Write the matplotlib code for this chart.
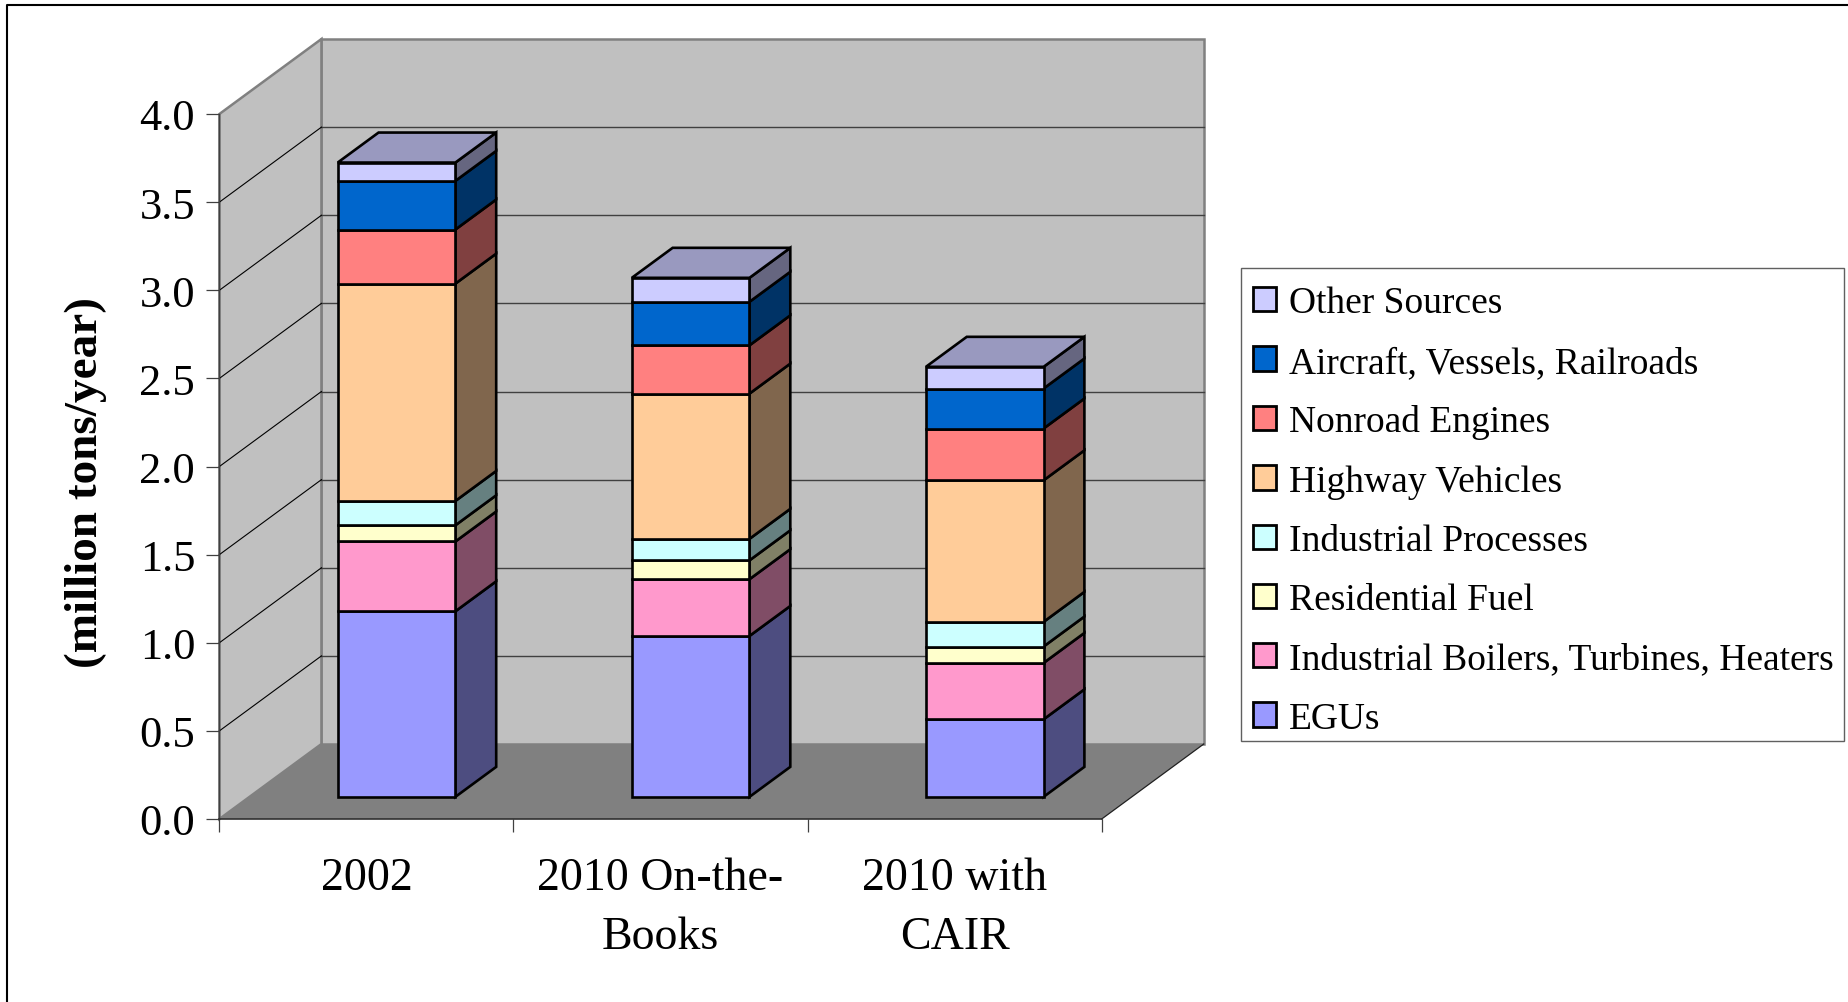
import matplotlib
matplotlib.use("Agg")
import matplotlib.pyplot as plt
from matplotlib.lines import Line2D
from matplotlib.patches import Patch, Polygon, Rectangle

plt.rcParams['font.family'] = ['Liberation Serif']

categories = ["2002", "2010 On-the-\nBooks", "2010 with\nCAIR"]
sources = ["EGUs", "Industrial Boilers, Turbines, Heaters", "Residential Fuel",
           "Industrial Processes", "Highway Vehicles", "Nonroad Engines",
           "Aircraft, Vessels, Railroads", "Other Sources"]
colors = ["#9999FF", "#FF99CC", "#FFFFCC", "#CCFFFF",
          "#FFCC99", "#FF8080", "#0066CC", "#CCCCFF"]

egus = [1.053, 0.913, 0.440]
boilers = [0.396, 0.322, 0.320]
residential = [0.092, 0.107, 0.093]
processes = [0.138, 0.122, 0.140]
highway = [1.233, 0.824, 0.803]
nonroad = [0.307, 0.274, 0.294]
aircraft = [0.276, 0.247, 0.227]
other = [0.104, 0.136, 0.123]
series = [egus, boilers, residential, processes, highway, nonroad, aircraft, other]

yticks = [0.0, 0.5, 1.0, 1.5, 2.0, 2.5, 3.0, 3.5, 4.0]

# oblique depth of the box, in data units
DX = 0.347
DY = 0.4255
BAR_W = 0.40


def shade(color, k):
    r, g, b = matplotlib.colors.to_rgb(color)
    return (r * k, g * k, b * k)


def proj(x, y, d):
    return (x + d * DX, y + d * DY)


def face(ax, pts, fc, ec, lw, z):
    ax.add_patch(Polygon(pts, closed=True, fc=fc, ec=ec, lw=lw, zorder=z,
                         clip_on=False, joinstyle='miter'))


fig = plt.figure(figsize=(18.49, 10.03), dpi=100)
ax = fig.add_axes([219.4 / 1849, 1 - 820 / 1003, 882.3 / 1849, 705 / 1003])
ax.set_xlim(0, 3)
ax.set_ylim(0, 4)
ax.patch.set_visible(False)
for s in ['top', 'right']:
    ax.spines[s].set_visible(False)
ax.spines['left'].set_color('#404040')
ax.spines['left'].set_linewidth(0.9)
ax.spines['bottom'].set_color('#303030')
ax.spines['bottom'].set_linewidth(1.2)

# walls and floor
face(ax, [proj(0, 0, 1), proj(3, 0, 1), proj(3, 4, 1), proj(0, 4, 1)], '#C0C0C0', '#808080', 1.8, 1)
face(ax, [proj(0, 0, 0), proj(0, 0, 1), proj(0, 4, 1), proj(0, 4, 0)], '#C0C0C0', '#808080', 1.8, 1)
face(ax, [proj(0, 0, 0), proj(3, 0, 0), proj(3, 0, 1), proj(0, 0, 1)], '#808080', 'none', 0, 1.5)
ax.plot(*zip(proj(3, 0, 0), proj(3, 0, 1)), color='#202020', lw=0.9, clip_on=False, zorder=2)
ax.plot([0, 0], [0, 4], color='#404040', lw=0.9, clip_on=False, zorder=2)

# gridlines run across the back wall and down the side wall
for v in yticks[1:-1]:
    ax.plot(*zip(proj(0, v, 1), proj(3, v, 1)), color='#404040', lw=1.0, clip_on=False, zorder=2)
    ax.plot(*zip(proj(0, v, 0), proj(0, v, 1)), color='black', lw=0.8, clip_on=False, zorder=2)

# stacked blocks
D0, D1 = 0.295, 0.695
for i in range(len(categories)):
    x0 = i + 0.5 - BAR_W / 2
    x1 = i + 0.5 + BAR_W / 2
    base = 0.0
    for vals, col in zip(series, colors):
        top = base + vals[i]
        face(ax, [proj(x0, base, D0), proj(x1, base, D0), proj(x1, top, D0), proj(x0, top, D0)],
             col, 'black', 1.9, 4)
        face(ax, [proj(x1, base, D0), proj(x1, base, D1), proj(x1, top, D1), proj(x1, top, D0)],
             shade(col, 0.5), 'black', 1.9, 3)
        base = top
    face(ax, [proj(x0, base, D0), proj(x1, base, D0), proj(x1, base, D1), proj(x0, base, D1)],
         shade(colors[-1], 0.75), 'black', 1.9, 3)

ax.set_yticks(yticks)
ax.set_yticklabels([f"{v:.1f}" for v in yticks], fontsize=32)
ax.tick_params(axis='y', length=9.4, width=0.9, color='#404040', pad=8)
ax.set_xticks([0, 1, 2, 3])
ax.set_xticklabels([])
ax.tick_params(axis='x', which='major', length=9.4, width=0.9, color='#404040')
ax.set_xticks([0.5, 1.5, 2.5], minor=True)
ax.set_xticklabels(categories, minor=True, fontsize=33, linespacing=1.5)
ax.tick_params(axis='x', which='minor', length=0, pad=27)

fig.text(86 / 1849, 1 - 483 / 1003, "(million tons/year)", rotation=90, fontsize=34,
         fontweight='bold', ha='center', va='center')

# legend box is drawn on its own so its size stays fixed
fig.add_artist(Rectangle((1241.3 / 1849, 1 - 742.3 / 1003), 603.2 / 1849, 473.3 / 1003,
                         transform=fig.transFigure, fc='white', ec='#606060', lw=1.0))
handles = [Patch(fc=c, ec='black', lw=2.0, label=s) for c, s in zip(colors, sources)]
leg = fig.legend(handles=handles[::-1], loc='upper left',
                 bbox_to_anchor=(1253 / 1849, 1 - 287 / 1003), borderaxespad=0,
                 fontsize=27, frameon=False, handlelength=0.62, handleheight=0.62,
                 handletextpad=0.33, labelspacing=0.66, borderpad=0)
leg.set_zorder(5)

# outer chart frame, left and top only
fig.add_artist(Line2D([7 / 1849, 7 / 1849, 1], [0, 1 - 5.5 / 1003, 1 - 5.5 / 1003],
                      color='black', lw=1.5, transform=fig.transFigure))

fig.savefig("out.png", dpi=100)
